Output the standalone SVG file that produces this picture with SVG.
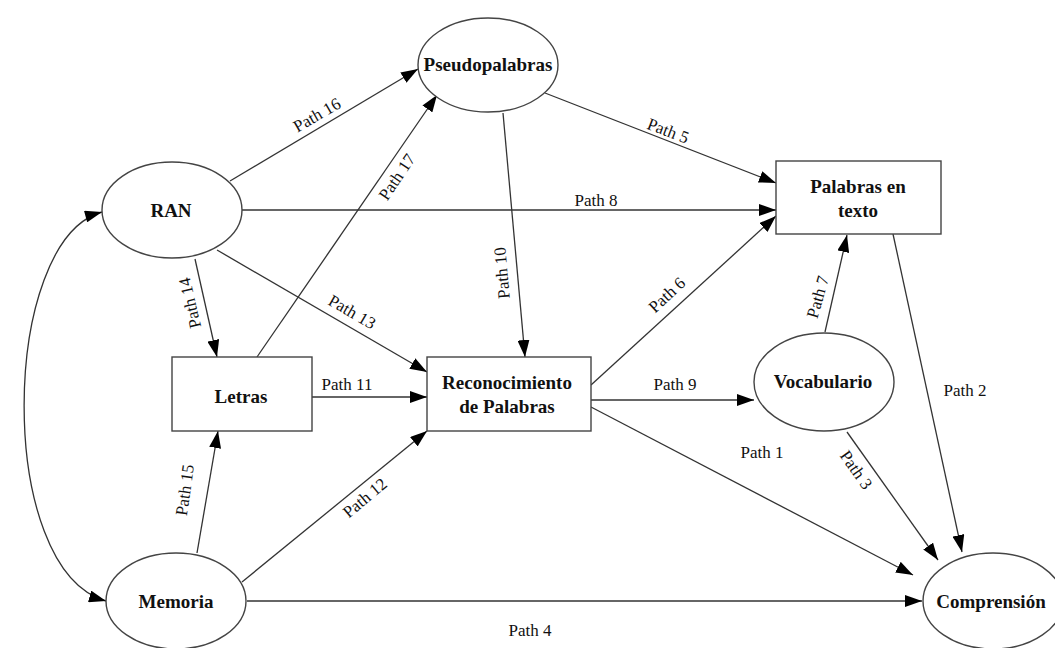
<svg xmlns="http://www.w3.org/2000/svg" width="1055" height="648" viewBox="0 0 1055 648">
  <defs>
    <marker id="arrow" markerUnits="userSpaceOnUse" markerWidth="18" markerHeight="12" refX="17" refY="6" orient="auto">
      <path d="M0,0 L17,6 L0,12 Z" fill="#000"/>
    </marker>
    <marker id="arrowStart" markerUnits="userSpaceOnUse" markerWidth="18" markerHeight="12" refX="0" refY="6" orient="auto">
      <path d="M17,0 L0,6 L17,12 Z" fill="#000"/>
    </marker>
    <style>
      .node { fill: #fff; stroke: #444; stroke-width: 1.4; }
      .name { font-family: "Liberation Serif", "Times New Roman", serif; font-size: 19px; font-weight: bold; fill: #111; text-anchor: middle; }
      .edge { fill: none; stroke: #333; stroke-width: 1.3; marker-end: url(#arrow); }
      .lbl { font-family: "Liberation Serif", "Times New Roman", serif; font-size: 17px; fill: #111; text-anchor: middle; dominant-baseline: central; }
    </style>
  </defs>
  <rect width="1055" height="648" fill="#fff"/>

  <!-- connectors -->
  <g id="connectors">
    <path class="edge" d="M102,212 C0,240 -5,570 106,601" marker-start="url(#arrowStart)"/>
    <line class="edge" x1="230" y1="181" x2="418" y2="69"/>
    <line class="edge" x1="257" y1="357" x2="437" y2="95"/>
    <line class="edge" x1="545" y1="93" x2="776" y2="183"/>
    <line class="edge" x1="242" y1="210" x2="776" y2="210"/>
    <line class="edge" x1="503" y1="113" x2="525" y2="357"/>
    <line class="edge" x1="195" y1="259" x2="217" y2="357"/>
    <line class="edge" x1="217" y1="250" x2="427" y2="372"/>
    <line class="edge" x1="591" y1="385" x2="776" y2="216"/>
    <line class="edge" x1="825" y1="332" x2="847" y2="235"/>
    <line class="edge" x1="312" y1="397" x2="427" y2="397"/>
    <line class="edge" x1="591" y1="400" x2="754" y2="400"/>
    <line class="edge" x1="893" y1="234" x2="962" y2="552"/>
    <line class="edge" x1="847" y1="432" x2="938" y2="560"/>
    <line class="edge" x1="591" y1="407" x2="913" y2="575"/>
    <line class="edge" x1="197" y1="553" x2="218" y2="431"/>
    <line class="edge" x1="242" y1="582" x2="427" y2="431"/>
    <line class="edge" x1="247" y1="601" x2="922" y2="601"/>

    <text class="lbl" transform="translate(317,115) rotate(-30)">Path 16</text>
    <text class="lbl" transform="translate(397,177) rotate(-56)">Path 17</text>
    <text class="lbl" transform="translate(668,131) rotate(21)">Path 5</text>
    <text class="lbl" x="596" y="200">Path 8</text>
    <text class="lbl" transform="translate(502,273) rotate(-95)">Path 10</text>
    <text class="lbl" transform="translate(190,303) rotate(-103)">Path 14</text>
    <text class="lbl" transform="translate(352,312) rotate(30)">Path 13</text>
    <text class="lbl" transform="translate(667,295) rotate(-43)">Path 6</text>
    <text class="lbl" transform="translate(818,297) rotate(-74)">Path 7</text>
    <text class="lbl" x="347" y="384">Path 11</text>
    <text class="lbl" x="675" y="384">Path 9</text>
    <text class="lbl" x="965" y="390">Path 2</text>
    <text class="lbl" transform="translate(856,470) rotate(55)">Path 3</text>
    <text class="lbl" x="762" y="452">Path 1</text>
    <text class="lbl" transform="translate(185,490) rotate(-82)">Path 15</text>
    <text class="lbl" transform="translate(365,498) rotate(-40)">Path 12</text>
    <text class="lbl" x="530" y="630">Path 4</text>
  </g>

  <!-- nodes -->
  <g id="pseudopalabras">
    <ellipse class="node" cx="488" cy="65" rx="70" ry="47"/>
    <text class="name" x="488" y="71">Pseudopalabras</text>
  </g>
  <g id="ran">
    <ellipse class="node" cx="172" cy="210" rx="70" ry="48"/>
    <text class="name" x="171" y="217">RAN</text>
  </g>
  <g id="palabras-texto">
    <rect class="node" x="776" y="161" width="165" height="73"/>
    <text class="name" x="858" y="193">Palabras en</text>
    <text class="name" x="858" y="217">texto</text>
  </g>
  <g id="letras">
    <rect class="node" x="172" y="357" width="140" height="74"/>
    <text class="name" x="241" y="403">Letras</text>
  </g>
  <g id="reconocimiento">
    <rect class="node" x="427" y="357" width="164" height="74"/>
    <text class="name" x="507" y="389">Reconocimiento</text>
    <text class="name" x="507" y="413">de Palabras</text>
  </g>
  <g id="vocabulario">
    <ellipse class="node" cx="824" cy="382" rx="70" ry="49"/>
    <text class="name" x="823" y="388">Vocabulario</text>
  </g>
  <g id="memoria">
    <ellipse class="node" cx="176" cy="601" rx="70" ry="48"/>
    <text class="name" x="176" y="608">Memoria</text>
  </g>
  <g id="comprension">
    <ellipse class="node" cx="993" cy="601" rx="70" ry="48"/>
    <text class="name" x="991" y="608">Comprensión</text>
  </g>
</svg>
